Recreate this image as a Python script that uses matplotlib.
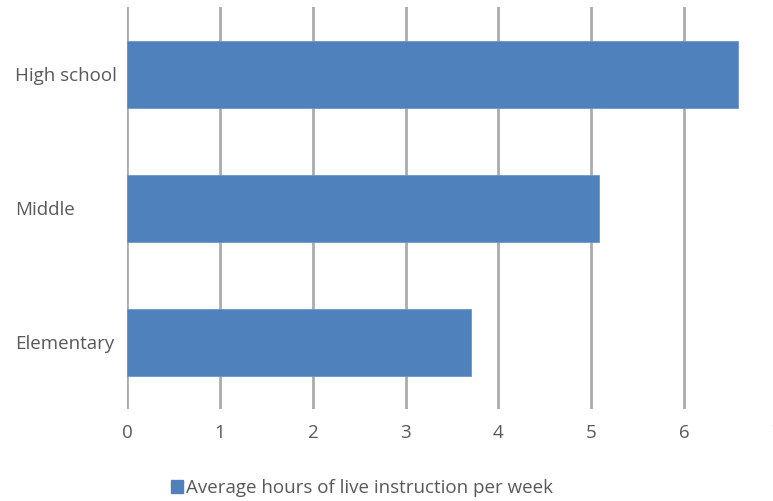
import matplotlib
matplotlib.use("Agg")
import matplotlib.pyplot as plt
from matplotlib.patches import Patch

# data
levels = ["Elementary", "Middle", "High school"]
hours = [3.71, 5.08, 6.58]
xticks = [0, 1, 2, 3, 4, 5, 6, 7]
series_name = "Average hours of live instruction per week"

bar_color = "#4F81BD"
grid_color = "#ABABAB"
text_color = "#595959"

plt.rcParams["font.family"] = ["Open Sans", "DejaVu Sans"]

fig = plt.figure(figsize=(7.73, 5.01), dpi=100)
ax = fig.add_axes([127 / 773, 1 - 409 / 501, 650 / 773, 402 / 501])

ax.barh(levels, hours, height=0.5, color=bar_color, edgecolor="#6E95C8",
        linewidth=0.6, zorder=3)

ax.set_xlim(0, 7)
ax.set_ylim(-0.5, 2.5)
ax.set_xticks(xticks)
ax.grid(axis="x", color=grid_color, linewidth=2, zorder=0)
for s in ax.spines.values():
    s.set_visible(False)
ax.tick_params(axis="both", length=0, labelsize=13.5, labelcolor=text_color)
ax.tick_params(axis="x", pad=11)
# category names sit flush left at the figure edge
ax.tick_params(axis="y", pad=80.6)
for lbl in ax.get_yticklabels():
    lbl.set_horizontalalignment("left")

fig.legend(handles=[Patch(color=bar_color, label=series_name)],
           loc="center", bbox_to_anchor=(362 / 773, 1 - 488 / 501),
           frameon=False, fontsize=13.5, labelcolor=text_color,
           handlelength=0.65, handleheight=0.65, handletextpad=0.15)

fig.savefig("out.png", dpi=100)
